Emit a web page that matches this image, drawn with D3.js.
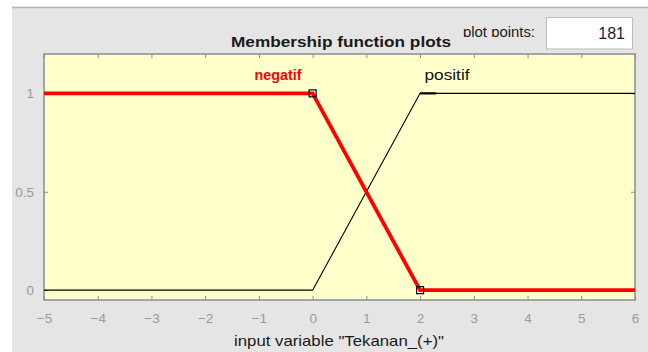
<!DOCTYPE html>
<html>
<head>
<meta charset="utf-8">
<script src="https://cdn.jsdelivr.net/npm/d3@7"></script>
<style>
  html, body { margin: 0; padding: 0; background: #fff; }
  svg { display: block; font-family: "Liberation Sans", Arial, sans-serif; }
</style>
</head>
<body>
<svg id="chart" width="648" height="352"></svg>
<script>
// Membership functions for the input variable "Tekanan_(+)"
const xTicks = [-5, -4, -3, -2, -1, 0, 1, 2, 3, 4, 5, 6];
const yTicks = [0, 0.5, 1];
const yTickLabels = ["0", "0.5", "1"];

// negatif: trapezoid shoulder, full membership up to 0, falling to 0 at 2
const negatifX = [-5, 0, 2, 6];
const negatifY = [1, 1, 0, 0];
// positif: zero up to 0, rising to full membership at 2
const positifX = [-5, 0, 2, 6];
const positifY = [0, 0, 1, 1];
// corner points of the highlighted (selected) function
const markerX = [0, 2];
const markerY = [1, 0];

const plotPoints = "181";
const titleText = "Membership function plots";
const xLabel = 'input variable "Tekanan_(+)"';

const svg = d3.select("#chart");
const W = 648, H = 352;
const L = 44, R = 635, T = 54, B = 300;

// panel background
svg.append("rect").attr("x", 12).attr("y", 8).attr("width", W - 12).attr("height", H - 8).attr("fill", "#e5e5e5");
svg.append("line").attr("x1", 12).attr("x2", W).attr("y1", 7.5).attr("y2", 7.5).attr("stroke", "#b4b4b4").attr("stroke-width", 1.5);

const x = d3.scaleLinear().domain([-5, 6]).range([L, R]);
const y = d3.scaleLinear().domain([-0.05, 1.2]).range([B, T]);

// axes box
svg.append("rect").attr("x", L).attr("y", T).attr("width", R - L).attr("height", B - T)
  .attr("fill", "#ffffcc");

const tickColor = "#8c8c8c";
const labelColor = "#9a9a9a";
const tl = 4;

// bottom axis with inward ticks
const xAxis = d3.axisBottom(x).tickValues(xTicks).tickSize(-tl).tickPadding(13).tickFormat(d3.format("d"));
const gx = svg.append("g").attr("transform", `translate(0,${B})`).call(xAxis);
gx.select(".domain").remove();
gx.selectAll(".tick line").attr("stroke", tickColor);
gx.selectAll(".tick text").attr("fill", labelColor).attr("font-size", 13.5);

// top ticks
const gxt = svg.append("g").attr("transform", `translate(0,${T})`)
  .call(d3.axisTop(x).tickValues(xTicks).tickSize(-tl).tickFormat(""));
gxt.select(".domain").remove();
gxt.selectAll(".tick line").attr("stroke", tickColor);

// left axis
const yAxis = d3.axisLeft(y).tickValues(yTicks).tickSize(-tl).tickPadding(10)
  .tickFormat((d, i) => yTickLabels[i]);
const gy = svg.append("g").attr("transform", `translate(${L},0)`).call(yAxis);
gy.select(".domain").remove();
gy.selectAll(".tick line").attr("stroke", tickColor);
gy.selectAll(".tick text").attr("fill", labelColor).attr("font-size", 13.5);

// right ticks
const gyr = svg.append("g").attr("transform", `translate(${R},0)`)
  .call(d3.axisRight(y).tickValues(yTicks).tickSize(-tl).tickFormat(""));
gyr.select(".domain").remove();
gyr.selectAll(".tick line").attr("stroke", tickColor);

// box outline
svg.append("rect").attr("x", L).attr("y", T).attr("width", R - L).attr("height", B - T)
  .attr("fill", "none").attr("stroke", "#8c8c8c").attr("stroke-width", 1.5);

const line = d3.line().x(d => x(d[0])).y(d => y(d[1]));

// positif (thin black)
svg.append("path").datum(positifX.map((v, i) => [v, positifY[i]]))
  .attr("d", line).attr("fill", "none").attr("stroke", "#000").attr("stroke-width", 1.1);
svg.append("path").datum([[2, 1], [2.3, 1]])
  .attr("d", line).attr("fill", "none").attr("stroke", "#000").attr("stroke-width", 2.2);

// negatif (thick red, selected)
svg.append("path").datum(negatifX.map((v, i) => [v, negatifY[i]]))
  .attr("d", line).attr("fill", "none").attr("stroke", "#ff0000").attr("stroke-width", 3.8)
  .attr("stroke-linejoin", "miter");

// corner markers
const ms = 7;
svg.selectAll("rect.marker").data(markerX.map((v, i) => [v, markerY[i]])).enter()
  .append("rect").attr("class", "marker")
  .attr("x", d => x(d[0]) - ms / 2).attr("y", d => y(d[1]) - ms / 2)
  .attr("width", ms).attr("height", ms)
  .attr("fill", "none").attr("stroke", "#000").attr("stroke-width", 1.2);

// function names
svg.append("text").attr("x", 278).attr("y", 80).attr("text-anchor", "middle")
  .attr("font-size", 14).attr("font-weight", "bold").attr("fill", "#ff0000")
  .attr("textLength", 47).attr("lengthAdjust", "spacingAndGlyphs").text("negatif");
svg.append("text").attr("x", 447).attr("y", 80).attr("text-anchor", "middle")
  .attr("font-size", 15).attr("fill", "#111")
  .attr("textLength", 45).attr("lengthAdjust", "spacingAndGlyphs").text("positif");

// title
svg.append("text").attr("x", 341).attr("y", 47).attr("text-anchor", "middle")
  .attr("font-size", 15.5).attr("font-weight", "bold").attr("fill", "#1a1a1a")
  .attr("textLength", 220).attr("lengthAdjust", "spacingAndGlyphs").text(titleText);

// plot points control (label descenders are clipped by its small field)
svg.append("clipPath").attr("id", "ppclip")
  .append("rect").attr("x", 450).attr("y", 18).attr("width", 95).attr("height", 19);
svg.append("text").attr("x", 499).attr("y", 36.5).attr("text-anchor", "middle")
  .attr("font-size", 14).attr("fill", "#1a1a1a").attr("clip-path", "url(#ppclip)")
  .attr("textLength", 72).attr("lengthAdjust", "spacingAndGlyphs").text("plot points:");
svg.append("rect").attr("x", 546.5).attr("y", 17.5).attr("width", 86).attr("height", 31.5)
  .attr("fill", "#fff").attr("stroke", "#bdbdbd");
svg.append("text").attr("x", 625).attr("y", 39).attr("text-anchor", "end")
  .attr("font-size", 16).attr("fill", "#1a1a3a").text(plotPoints);

// x label
svg.append("text").attr("x", 339).attr("y", 345.5).attr("text-anchor", "middle")
  .attr("font-size", 15).attr("fill", "#1a1a1a")
  .attr("textLength", 210).attr("lengthAdjust", "spacingAndGlyphs").text(xLabel);
</script>
</body>
</html>
